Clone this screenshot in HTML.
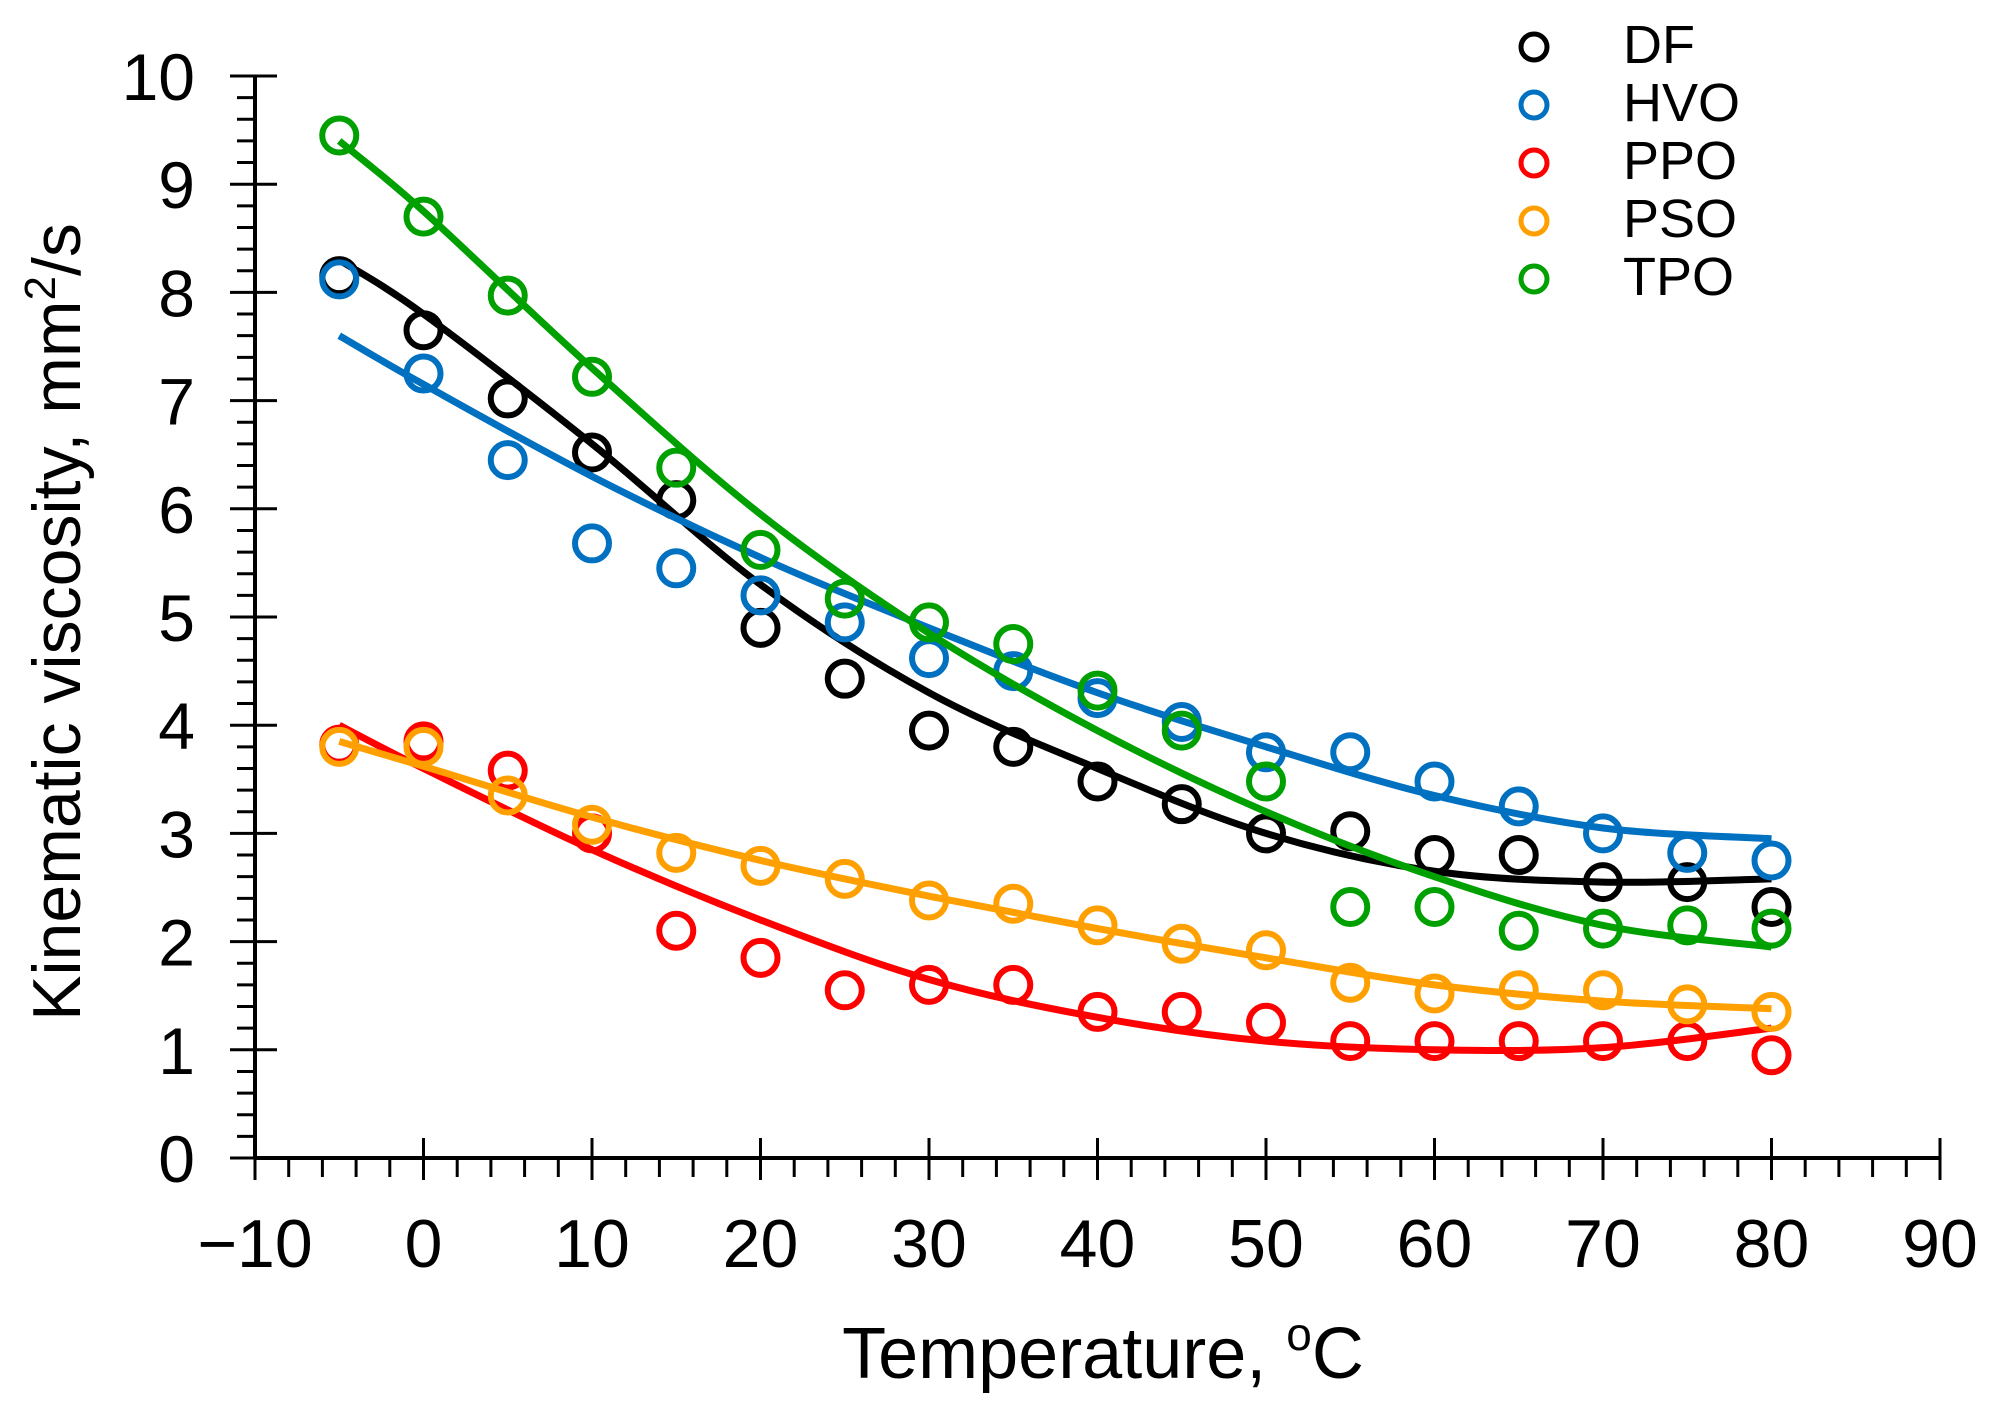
<!DOCTYPE html>
<html><head><meta charset="utf-8"><style>
html,body{margin:0;padding:0;background:#fff}
svg{display:block}
text{font-family:"Liberation Sans",Arial,sans-serif;fill:#000}
</style></head><body>
<svg id="chart" width="2002" height="1406" viewBox="0 0 2002 1406" xmlns="http://www.w3.org/2000/svg">
<g id="axes"></g>
<g id="series"></g>
<g id="legend"></g>
<text transform="translate(80,622) rotate(-90)" text-anchor="middle" font-size="68">Kinematic viscosity, mm<tspan font-size="44" dy="-25">2</tspan><tspan dy="25">/s</tspan></text>
<text x="1103" y="1378" text-anchor="middle" font-size="72">Temperature, <tspan font-size="46" dy="-28">o</tspan><tspan dy="28">C</tspan></text>
</svg>
<script>
const xTicks = [-10,0,10,20,30,40,50,60,70,80,90];
const yTicks = [0,1,2,3,4,5,6,7,8,9,10];
const temps = [-5,0,5,10,15,20,25,30,35,40,45,50,55,60,65,70,75,80];
const fitTemps = [-5,0,10,20,30,40,50,60,70,80];
const seriesNames = ["DF","HVO","PPO","PSO","TPO"];
const seriesColors = ["#000000","#0070c0","#ff0000","#ffa000","#00a000"];
const dfPts = [8.15,7.65,7.02,6.52,6.08,4.9,4.43,3.95,3.8,3.48,3.27,3.0,3.02,2.8,2.8,2.55,2.55,2.32];
const hvoPts = [8.12,7.25,6.45,5.68,5.45,5.2,4.95,4.62,4.5,4.25,4.03,3.75,3.75,3.48,3.25,3.0,2.82,2.75];
const ppoPts = [3.82,3.85,3.58,3.0,2.1,1.85,1.55,1.6,1.6,1.35,1.35,1.25,1.08,1.08,1.08,1.08,1.08,0.95];
const psoPts = [3.8,3.8,3.35,3.08,2.82,2.7,2.58,2.38,2.35,2.15,1.98,1.92,1.62,1.52,1.55,1.55,1.42,1.35];
const tpoPts = [9.45,8.7,7.97,7.22,6.38,5.62,5.17,4.95,4.75,4.32,3.95,3.48,2.32,2.32,2.1,2.12,2.15,2.12];
const dfFit = [8.3,7.8,6.6,5.3,4.3,3.6,3.0,2.65,2.55,2.58];
const hvoFit = [7.6,7.15,6.3,5.55,4.9,4.3,3.8,3.35,3.05,2.95];
const ppoFit = [4.0,3.6,2.85,2.2,1.65,1.3,1.08,1.0,1.02,1.2];
const psoFit = [3.85,3.62,3.15,2.75,2.42,2.12,1.85,1.6,1.45,1.38];
const tpoFit = [9.4,8.75,7.3,5.95,4.85,3.95,3.2,2.6,2.15,1.95];

const NS="http://www.w3.org/2000/svg";
const X=v=>255+(v+10)*16.85;
const Y=v=>1158-v*108.2;
function mk(tag,parent,attrs){const e=document.createElementNS(NS,tag);for(const k in attrs)e.setAttribute(k,attrs[k]);parent.appendChild(e);return e;}
const axes=document.getElementById('axes');
let l=mk('line',axes,{x1:X(-10),y1:Y(0),x2:X(90),y2:Y(0),stroke:'#000','stroke-width':4});


l=mk('line',axes,{x1:X(-10),y1:Y(0),x2:X(-10),y2:Y(10),stroke:'#000','stroke-width':4});


for(let v=-10;v<=90;v+=2){
  const major=(v%10===0);
  const t=mk('line',axes,{x1:X(v),y1:major&&v!==-10?Y(0)-20:Y(0),x2:X(v),y2:Y(0)+(major?22:19),stroke:'#000','stroke-width':3});
  
  
}
for(let i=0;i<=50;i++){
  const v=i/5, major=(i%5===0);
  const t=mk('line',axes,{x1:X(-10)-(major?25:18),y1:Y(v),x2:X(-10)+(major&&i!==0?22:0),y2:Y(v),stroke:'#000','stroke-width':3});
  
  
}
xTicks.forEach(v=>{
  const t=mk('text',axes,{x:X(v),y:1267,'text-anchor':'middle','font-size':68});
  t.textContent=v<0?'\u2212'+Math.abs(v):String(v);
  
  
});
yTicks.forEach(v=>{
  const t=mk('text',axes,{x:195,y:Y(v)+24,'text-anchor':'end','font-size':66});
  t.textContent=String(v);
  
  
});
function smooth(pts){
  let d='M'+pts[0][0]+','+pts[0][1];
  for(let i=0;i<pts.length-1;i++){
    const p0=pts[Math.max(0,i-1)],p1=pts[i],p2=pts[i+1],p3=pts[Math.min(pts.length-1,i+2)];
    const c1=[p1[0]+(p2[0]-p0[0])/6,p1[1]+(p2[1]-p0[1])/6];
    const c2=[p2[0]-(p3[0]-p1[0])/6,p2[1]-(p3[1]-p1[1])/6];
    d+=' C'+c1[0]+','+c1[1]+' '+c2[0]+','+c2[1]+' '+p2[0]+','+p2[1];
  }
  return d;
}
const pts=[dfPts,hvoPts,ppoPts,psoPts,tpoPts];
const fits=[dfFit,hvoFit,ppoFit,psoFit,tpoFit];
const sg=document.getElementById('series');
seriesNames.forEach((n,s)=>{
  const g=mk('g',sg,{});
  
  
  temps.forEach((t,i)=>{
    const c=mk('circle',g,{cx:X(t),cy:Y(pts[s][i]),r:17,fill:'none',stroke:seriesColors[s],'stroke-width':6});
    
    
  });
  const p=mk('path',g,{d:smooth(fitTemps.map((t,i)=>[X(t),Y(fits[s][i])])),fill:'none',stroke:seriesColors[s],'stroke-width':7});
  
  
});
const lg=document.getElementById('legend');
seriesNames.forEach((n,s)=>{
  const g=mk('g',lg,{});
  
  
  mk('circle',g,{cx:1534,cy:47+s*58,r:13,fill:'none',stroke:seriesColors[s],'stroke-width':5});
  const t=mk('text',g,{x:1623,y:63+s*58,'font-size':54});
  t.textContent=n;
});
</script>
</body></html>
